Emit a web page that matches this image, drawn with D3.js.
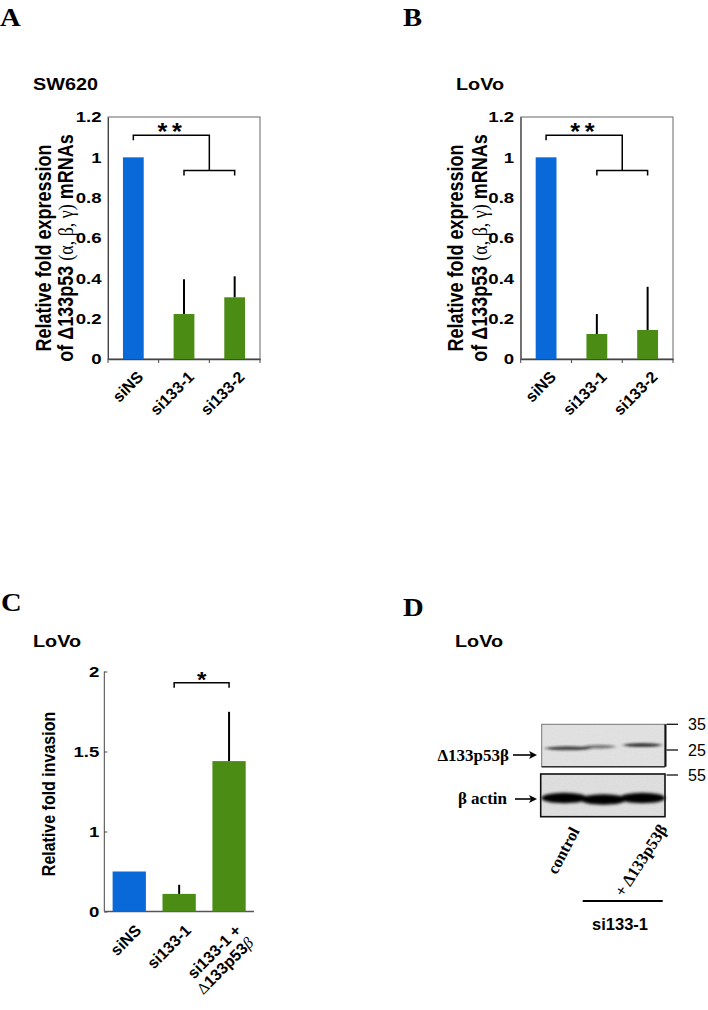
<!DOCTYPE html>
<html><head><meta charset="utf-8">
<script src="https://cdn.jsdelivr.net/npm/d3@7"></script>
<style>body{margin:0;background:#fff}</style>
</head><body><svg id="c" width="708" height="1010"></svg>
<script>
// ---------------- data ----------------
const categoriesAB = ["siNS", "si133-1", "si133-2"];
const valuesA = [1.0, 0.223, 0.306];
const errorsA = [0, 0.172, 0.104];
const valuesB = [1.0, 0.124, 0.144];
const errorsB = [0, 0.099, 0.214];
const yTicksAB = [0, 0.2, 0.4, 0.6, 0.8, 1, 1.2];
const yTickLabelsAB = ["0", "0.2", "0.4", "0.6", "0.8", "1", "1.2"];

const categoriesC = ["siNS", "si133-1", "si133-1 +|Δ133p53β"];
const valuesC = [0.75, 0.61, 1.44];
const errorsC = [0, 0.057, 0.308];
const yTicksC = [0.5, 1, 1.5, 2];
const yTickLabelsC = ["0", "1", "1.5", "2"];

const barColors = ["#0a69d8", "#4a8c14", "#4a8c14"];

// western blot (panel D)
const lanesD = ["control", "si133-1", "+ Δ133p53β"];
const bandP53 = [0.78, 0.5, 0.82];
const bandP53Width = [0.62, 0.42, 0.52];
const bandActin = [1, 1, 1];
const markerLabelsD = ["35", "25", "55"];

// ---------------- drawing ----------------
const SANS = "'Liberation Sans', Arial, Helvetica, sans-serif";
const SERIF = "'Liberation Serif', 'Times New Roman', serif";
const SX = 1.2; // horizontal stretch of the reference typesetting
const svg = d3.select("#c");

function txt(x, y, s, o = {}) {
  const sx = o.sx || 1;
  const t = svg.append("text").attr("x", 0).attr("y", 0).text(s)
    .attr("transform", `translate(${x},${y}) scale(${sx},1)`)
    .attr("font-family", o.family || SANS)
    .attr("font-weight", o.weight || "bold")
    .attr("font-size", o.size || 15)
    .attr("fill", "#000");
  if (o.anchor) t.attr("text-anchor", o.anchor);
  return t;
}
function rtxt(x, y, s, o = {}) { // rotated text with own transform
  const t = svg.append("text").text(s)
    .attr("transform", o.tr)
    .attr("font-family", o.family || SANS)
    .attr("font-weight", o.weight || "bold")
    .attr("font-size", o.size || 15)
    .attr("fill", "#000");
  if (o.anchor) t.attr("text-anchor", o.anchor);
  return t;
}
function styleTicks(sel, pad) {
  sel.selectAll("text").attr("font-family", SANS).attr("font-weight", "bold")
    .attr("font-size", 15.5).attr("fill", "#000")
    .attr("x", 0).attr("transform", `translate(${-pad},0) scale(${SX},1)`);
}

// panel letters
txt(0, 26, "A", {family: SERIF, size: 26, sx: 1.1});
txt(403, 26, "B", {family: SERIF, size: 26, sx: 1.1});
txt(1, 611, "C", {family: SERIF, size: 26, sx: 1.1});
txt(403, 616, "D", {family: SERIF, size: 26, sx: 1.1});

function panelAB(opts) {
  const {x0, x1, vals, errs, title, titleX, labX1, labX2} = opts;
  const y = d3.scaleLinear().domain([0, 1.2]).range([359, 117]);
  const x = d3.scaleBand().domain(categoriesAB).range([x0, x1]);
  const g = svg.append("g");
  g.append("rect").attr("x", x0).attr("y", y(1.2)).attr("width", x1 - x0)
    .attr("height", y(0) - y(1.2)).attr("fill", "none").attr("stroke", "#666").attr("stroke-width", 1);
  const ya = g.append("g").attr("transform", `translate(${x0},0)`)
    .call(d3.axisLeft(y).tickValues(yTicksAB).tickSize(0).tickPadding(7)
      .tickFormat((d, i) => yTickLabelsAB[i]));
  ya.select(".domain").attr("stroke", "#444");
  styleTicks(ya, 6.5);
  const xa = g.append("g").attr("transform", `translate(0,${y(0)})`)
    .call(d3.axisBottom(x).tickSize(0).tickFormat(""));
  xa.select(".domain").attr("stroke", "#444").attr("stroke-width", 1.5);
  const bounds = d3.range(categoriesAB.length + 1).map(i => x0 + i * x.step());
  g.selectAll(".xt").data(bounds).join("line")
    .attr("x1", d => d).attr("x2", d => d).attr("y1", y(0)).attr("y2", y(0) + 4)
    .attr("stroke", "#444");
  const bw = x.step() * 0.41;
  const cx = c => x(c) + x.bandwidth() / 2;
  g.selectAll(".bar").data(categoriesAB).join("rect")
    .attr("x", d => cx(d) - bw / 2).attr("width", bw)
    .attr("y", (d, i) => y(vals[i])).attr("height", (d, i) => y(0) - y(vals[i]))
    .attr("fill", (d, i) => barColors[i]);
  categoriesAB.forEach((c, i) => {
    if (errs[i] > 0) g.append("line").attr("x1", cx(c)).attr("x2", cx(c))
      .attr("y1", y(vals[i])).attr("y2", y(vals[i] + errs[i]))
      .attr("stroke", "#000").attr("stroke-width", 2);
  });
  const c0 = cx(categoriesAB[0]), c1 = cx(categoriesAB[1]), c2 = cx(categoriesAB[2]);
  const mid = (c1 + c2) / 2;
  const yT = y(1.11), yL = y(0.935);
  g.append("path").attr("d", `M${c0},${yT + 5}V${yT}H${mid}V${yL}`)
    .attr("fill", "none").attr("stroke", "#000").attr("stroke-width", 1.5);
  g.append("path").attr("d", `M${c1},${yL + 5}V${yL}H${c2}V${yL + 5}`)
    .attr("fill", "none").attr("stroke", "#000").attr("stroke-width", 1.5);
  txt(x0 + 54.5, 140, "*", {size: 23, anchor: "middle", sx: 1.1});
  txt(x0 + 69, 140, "*", {size: 23, anchor: "middle", sx: 1.1});
  categoriesAB.forEach((c) => {
    rtxt(0, 0, c, {size: 16, anchor: "end", tr: `translate(${cx(c) + 11},${y(0) + 19}) rotate(-45)`});
  });
  txt(titleX, 89.5, title, {size: 16.5, sx: SX});
  const yc = 248;
  rtxt(0, 0, "Relative fold expression", {size: 18, anchor: "middle",
    tr: `translate(${labX1},${yc}) rotate(-90) scale(1,${SX})`});
  const t2 = svg.append("text").attr("text-anchor", "middle")
    .attr("transform", `translate(${labX2},${yc}) rotate(-90) scale(1,${SX})`)
    .attr("font-family", SANS).attr("font-weight", "bold").attr("font-size", 18);
  t2.append("tspan").text("of Δ133p53 ");
  t2.append("tspan").attr("font-family", SERIF).attr("font-weight", "normal").text("(α, β, γ)");
  t2.append("tspan").text("  mRNAs");
}

panelAB({x0: 108, x1: 260, vals: valuesA, errs: errorsA, title: "SW620", titleX: 33, labX1: 50.5, labX2: 72.5});
panelAB({x0: 520.7, x1: 673, vals: valuesB, errs: errorsB, title: "LoVo", titleX: 456, labX1: 463, labX2: 486.5});

// ---------------- panel C ----------------
(function () {
  const x0 = 104.3, x1 = 254;
  const y = d3.scaleLinear().domain([0.5, 2]).range([911.5, 671.5]);
  const x = d3.scaleBand().domain(categoriesC).range([x0, x1]);
  const g = svg.append("g");
  const ya = g.append("g").attr("transform", `translate(${x0},0)`)
    .call(d3.axisLeft(y).tickValues(yTicksC).tickSize(-3).tickPadding(8)
      .tickFormat((d, i) => yTickLabelsC[i]));
  ya.select(".domain").attr("stroke", "#444").attr("d", `M-0,${y(2)}V${y(0.5)}`);
  ya.selectAll("line").attr("stroke", "#444");
  styleTicks(ya, 5);
  g.append("line").attr("x1", x0).attr("x2", x1).attr("y1", y(0.5)).attr("y2", y(0.5))
    .attr("stroke", "#555").attr("stroke-width", 1.5);
  const bw = x.step() * 0.667;
  const cx = c => x(c) + x.bandwidth() / 2;
  g.selectAll(".bar").data(categoriesC).join("rect")
    .attr("x", d => cx(d) - bw / 2).attr("width", bw)
    .attr("y", (d, i) => y(valuesC[i])).attr("height", (d, i) => y(0.5) - y(valuesC[i]))
    .attr("fill", (d, i) => barColors[i]);
  categoriesC.forEach((c, i) => {
    if (errorsC[i] > 0) {
      g.append("line").attr("x1", cx(c)).attr("x2", cx(c))
        .attr("y1", y(valuesC[i])).attr("y2", y(valuesC[i] + errorsC[i]))
        .attr("stroke", "#000").attr("stroke-width", 2);
    }
  });
  const c1 = cx(categoriesC[1]), c2 = cx(categoriesC[2]);
  const yb = y(1.93);
  g.append("path").attr("d", `M${c1 - 5},${yb + 5}V${yb}H${c2}V${yb + 5}`)
    .attr("fill", "none").attr("stroke", "#000").attr("stroke-width", 1.5);
  txt((c1 - 5 + c2) / 2, 687, "*", {size: 22, anchor: "middle", sx: 1.1});
  categoriesC.forEach((c) => {
    const lines = c.split("|");
    const t = svg.append("text").attr("text-anchor", "end")
      .attr("transform", `translate(${cx(c) + 13},${y(0.5) + 20}) rotate(-45)`)
      .attr("font-family", SANS).attr("font-weight", "bold").attr("font-size", 16);
    lines.forEach((l, j) => {
      const ts = t.append("tspan").attr("x", 0).attr("dy", j === 0 ? 0 : "1.1em");
      if (l.startsWith("Δ")) {
        ts.append("tspan").attr("font-family", SERIF).attr("font-weight", "normal").text("Δ");
        ts.append("tspan").text(l.slice(1, -1));
        ts.append("tspan").attr("font-family", SERIF).attr("font-weight", "normal").attr("font-style", "italic").text(l.slice(-1));
      } else ts.text(l);
    });
  });
  txt(33, 647, "LoVo", {size: 16.5, sx: SX});
  rtxt(0, 0, "Relative fold invasion", {size: 16, anchor: "middle",
    tr: `translate(55,794) rotate(-90) scale(1,${SX})`});
})();

// ---------------- panel D (western blot) ----------------
(function () {
  txt(455, 647, "LoVo", {size: 16.5, sx: SX});
  const defs = svg.append("defs");
  const f = defs.append("filter").attr("id", "noise").attr("x", 0).attr("y", 0).attr("width", 1).attr("height", 1);
  f.append("feTurbulence").attr("type", "fractalNoise").attr("baseFrequency", 0.9).attr("numOctaves", 2).attr("seed", 3).attr("result", "n");
  f.append("feColorMatrix").attr("in", "n").attr("type", "matrix")
    .attr("values", "0 0 0 0 0.84  0 0 0 0 0.84  0 0 0 0 0.84  0 0 0 -0.9 1.0");
  const blur = defs.append("filter").attr("id", "blur").attr("x", "-30%").attr("y", "-100%").attr("width", "160%").attr("height", "300%");
  blur.append("feGaussianBlur").attr("stdDeviation", "2 0.9");
  const blur2 = defs.append("filter").attr("id", "blur2").attr("x", "-30%").attr("y", "-100%").attr("width", "160%").attr("height", "300%");
  blur2.append("feGaussianBlur").attr("stdDeviation", "1.8 1.4");

  const lx0 = 541.7, lx1 = 665;
  const lane = d3.scaleBand().domain(lanesD).range([lx0 + 4, lx1 - 4]).paddingInner(0.05);
  const lc = d => lane(d) + lane.bandwidth() / 2;
  const op = d3.scaleLinear().domain([0, 1]).range([0, 1]);

  const tY0 = 724.3, tY1 = 766.7;
  svg.append("rect").attr("x", lx0).attr("y", tY0).attr("width", lx1 - lx0).attr("height", tY1 - tY0)
    .attr("fill", "#dadada");
  svg.append("rect").attr("x", lx0).attr("y", tY0).attr("width", lx1 - lx0).attr("height", tY1 - tY0)
    .attr("filter", "url(#noise)").attr("opacity", 0.6);
  const gT = svg.append("g").attr("filter", "url(#blur)");
  const shiftT = [4, -4, 0];
  lanesD.forEach((l, i) => {
    gT.append("ellipse").attr("cx", lc(l) + shiftT[i]).attr("cy", 748.3 - i * 1.6)
      .attr("rx", lane.bandwidth() * bandP53Width[i]).attr("ry", 2)
      .attr("fill", "#1a1a1a").attr("opacity", op(bandP53[i]));
  });
  svg.append("rect").attr("x", lx0).attr("y", tY0).attr("width", lx1 - lx0).attr("height", tY1 - tY0)
    .attr("fill", "none").attr("stroke", "#777").attr("stroke-width", 1);
  svg.append("line").attr("x1", lx0).attr("x2", lx1).attr("y1", tY1).attr("y2", tY1).attr("stroke", "#333").attr("stroke-width", 1.5);
  svg.append("line").attr("x1", lx1 + 0.5).attr("x2", lx1 + 0.5).attr("y1", tY0).attr("y2", tY1).attr("stroke", "#111").attr("stroke-width", 2);

  const bY0 = 774, bY1 = 816.7;
  svg.append("rect").attr("x", lx0 - 1).attr("y", bY0).attr("width", lx1 - lx0 + 1).attr("height", bY1 - bY0)
    .attr("fill", "#d6d6d6");
  svg.append("rect").attr("x", lx0 - 1).attr("y", bY0).attr("width", lx1 - lx0 + 1).attr("height", bY1 - bY0)
    .attr("filter", "url(#noise)").attr("opacity", 0.6);
  const gB = svg.append("g").attr("filter", "url(#blur2)");
  lanesD.forEach((l, i) => {
    gB.append("ellipse").attr("cx", lc(l)).attr("cy", 798 + (i === 1 ? 1.5 : 0))
      .attr("rx", lane.bandwidth() * 0.62).attr("ry", 5.2)
      .attr("fill", "#050505").attr("opacity", op(bandActin[i]));
  });
  svg.append("rect").attr("x", lx0 - 1).attr("y", bY0).attr("width", lx1 - lx0 + 1).attr("height", bY1 - bY0)
    .attr("fill", "none").attr("stroke", "#111").attr("stroke-width", 1.6);

  const mY = [tY0, 750, 775];
  markerLabelsD.forEach((m, i) => {
    svg.append("line").attr("x1", 666.5).attr("x2", 678).attr("y1", mY[i]).attr("y2", mY[i])
      .attr("stroke", "#111").attr("stroke-width", 1.3);
    txt(688, mY[i] + 5.5, m, {weight: "normal", size: 16});
  });

  const arrow = (xa, xb, yy) => {
    svg.append("line").attr("x1", xa).attr("x2", xb - 5).attr("y1", yy).attr("y2", yy)
      .attr("stroke", "#000").attr("stroke-width", 1.6);
    svg.append("path").attr("d", `M${xb},${yy}L${xb - 8},${yy - 4}L${xb - 6},${yy}L${xb - 8},${yy + 4}Z`).attr("fill", "#000");
  };
  txt(509, 761, "Δ133p53β", {family: SERIF, size: 17, anchor: "end"});
  arrow(513, 537, 755);
  txt(507, 804, "β actin", {family: SERIF, size: 17, anchor: "end"});
  arrow(515, 537, 799);

  rtxt(0, 0, lanesD[0], {family: SERIF, size: 16.5, anchor: "end", tr: `translate(580,831) rotate(-62)`});
  rtxt(0, 0, lanesD[2], {family: SERIF, size: 16.5, anchor: "end", tr: `translate(668,829) rotate(-57)`});
  svg.append("line").attr("x1", 582.7).attr("x2", 662.7).attr("y1", 901).attr("y2", 901)
    .attr("stroke", "#000").attr("stroke-width", 2);
  txt(620, 930, lanesD[1], {size: 16.5, anchor: "middle"});
})();
</script>
</body></html>
